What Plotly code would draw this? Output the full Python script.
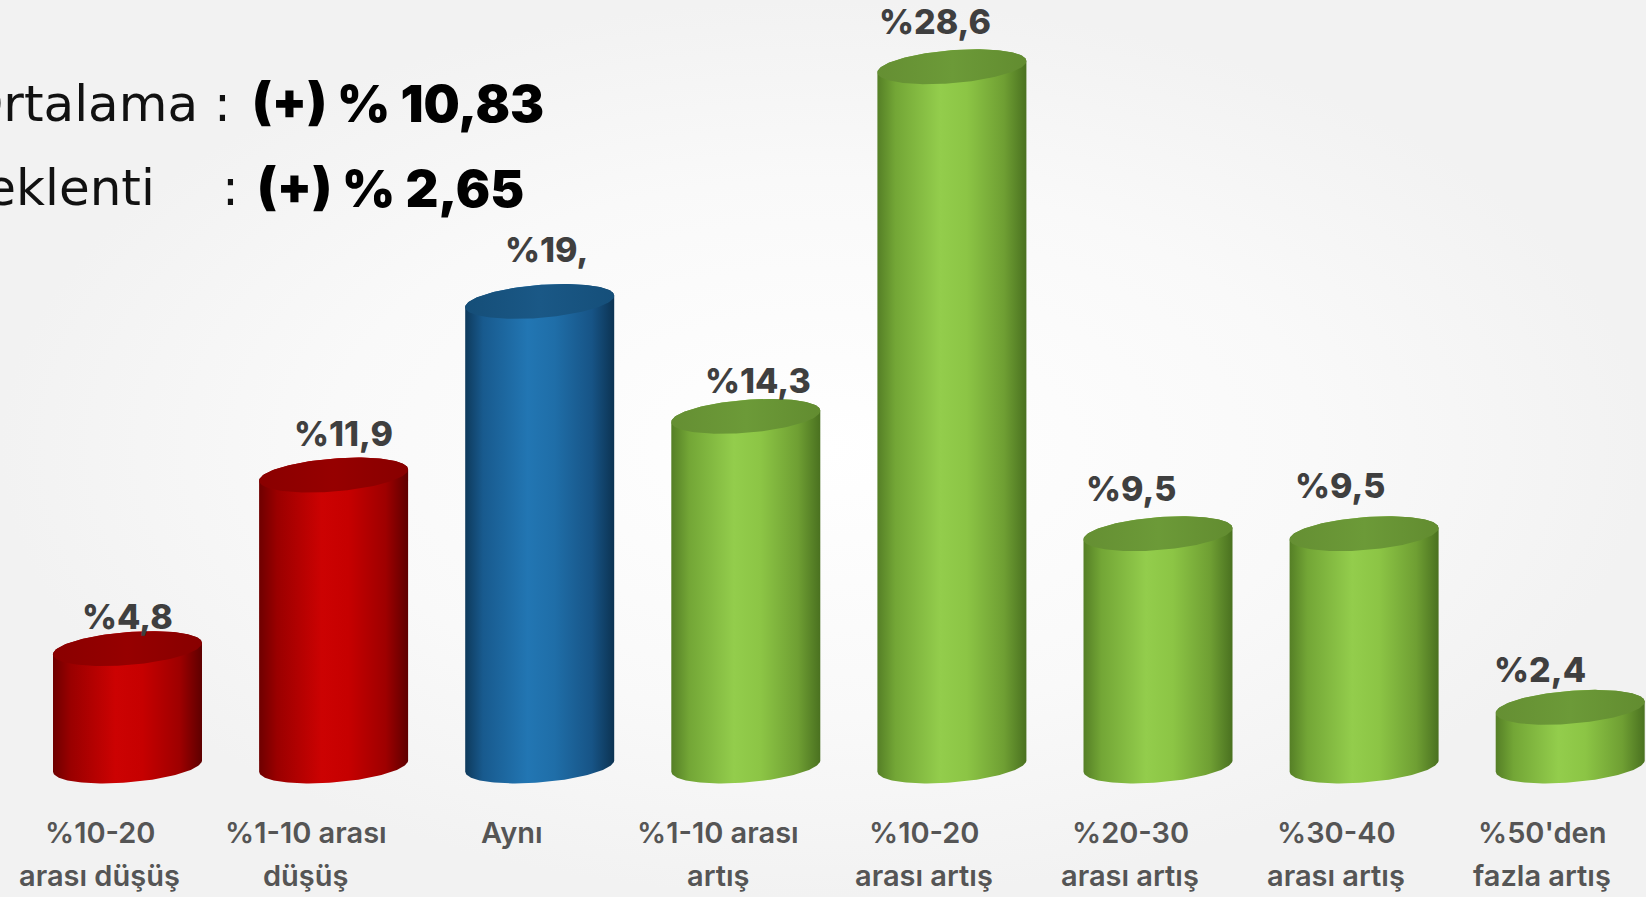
import numpy as np
import plotly.graph_objects as go

# ---------------- data ----------------
categories_line1 = ["%10-20", "%1-10 arası", "Aynı", "%1-10 arası", "%10-20", "%20-30", "%30-40", "%50'den"]
categories_line2 = ["arası düşüş", "düşüş", "", "artış", "arası artış", "arası artış", "arası artış", "fazla artış"]
values = [4.8, 11.9, 19.0, 14.3, 28.6, 9.5, 9.5, 2.4]
value_labels = ["%4,8", "%11,9", "%19,", "%14,3", "%28,6", "%9,5", "%9,5", "%2,4"]
groups = ["down", "down", "same", "up", "up", "up", "up", "up"]
header_names = ["Ortalama", "Beklenti"]
header_values = ["(+) % 10,83", "(+) % 2,65"]

# ---------------- style ----------------
W, H = 1646, 897
PX_PER_X = 206.1
PX_PER_Y = 24.45
X0_PX = 127.5      # pixel of first bar centre
BASE_PX = 766      # pixel of value 0
x_range = [-X0_PX / PX_PER_X, (W - X0_PX) / PX_PER_X]
y_range = [-(H - BASE_PX) / PX_PER_Y, BASE_PX / PX_PER_Y]

half_w = 74.5 / PX_PER_X
ell_b = 16.5 / PX_PER_Y
ell_s = 5.7 / PX_PER_Y

palette = {
    "down": dict(body=[[0, "#6e0000"], [0.12, "#9a0000"], [0.42, "#cc0202"], [0.6, "#c60000"],
                       [0.85, "#9e0000"], [1, "#5e0000"]],
                 top=[[0, "#8a0000"], [0.5, "#960000"], [1, "#880000"]]),
    "same": dict(body=[[0, "#0e3a5c"], [0.12, "#185a8e"], [0.42, "#2276b3"], [0.6, "#1f6ea8"],
                       [0.85, "#175486"], [1, "#0c3352"]],
                 top=[[0, "#154e78"], [0.5, "#1a5886"], [1, "#154f7a"]]),
    "up": dict(body=[[0, "#557f26"], [0.12, "#73a636"], [0.42, "#93cd4c"], [0.6, "#8cc545"],
                     [0.85, "#6f9f33"], [1, "#4a7120"]],
               top=[[0, "#658f33"], [0.5, "#6c9a38"], [1, "#628c30"]]),
}

fig = go.Figure()

# background radial glow
bx = [x_range[0], x_range[1], x_range[1], x_range[0], x_range[0]]
by = [y_range[0], y_range[0], y_range[1], y_range[1], y_range[0]]
fig.add_trace(go.Scatter(
    x=bx, y=by, mode="lines", line=dict(width=0), fill="toself",
    fillgradient=dict(type="radial", colorscale=[[0, "#ffffff"], [0.6, "#f9f9f9"], [1, "#f2f2f2"]]),
    hoverinfo="skip", showlegend=False))

theta_low = np.linspace(np.pi, 2 * np.pi, 80)
theta_up = np.linspace(0, np.pi, 80)
theta_all = np.linspace(0, 2 * np.pi, 160)

for i, (v, g) in enumerate(zip(values, groups)):
    cx = float(i)
    xs = list(cx + half_w * np.cos(theta_low)) + list(cx + half_w * np.cos(theta_up))
    ys = list(0 + ell_b * np.sin(theta_low) + ell_s * np.cos(theta_low)) + \
         list(v + ell_b * np.sin(theta_up) + ell_s * np.cos(theta_up))
    xs.append(xs[0]); ys.append(ys[0])
    fig.add_trace(go.Scatter(
        x=xs, y=ys, mode="lines", line=dict(width=0), fill="toself",
        fillgradient=dict(type="horizontal", colorscale=palette[g]["body"]),
        hoverinfo="skip", showlegend=False))
    tx = cx + half_w * np.cos(theta_all)
    ty = v + ell_b * np.sin(theta_all) + ell_s * np.cos(theta_all)
    fig.add_trace(go.Scatter(
        x=tx, y=ty, mode="lines", line=dict(width=0), fill="toself",
        fillgradient=dict(type="horizontal", colorscale=palette[g]["top"]),
        hoverinfo="skip", showlegend=False))

# value labels (hand-placed shifts in pixels)
label_dx = [0, 10, 7, 12, -17, -27, -24, -30]
label_dy = [32, 42, 52, 36, 45, 45, 48, 38]
for i, (v, t) in enumerate(zip(values, value_labels)):
    fig.add_annotation(x=i, y=v, text=t, showarrow=False, xshift=label_dx[i], yshift=label_dy[i],
                       font=dict(family="Inter", size=34, color="#3f3f3f", weight=800))

# category labels (sit slightly left of the bars in the original)
CAT_SHIFT = -28
for i, (l1, l2) in enumerate(zip(categories_line1, categories_line2)):
    fig.add_annotation(x=i, y=(BASE_PX - 832) / PX_PER_Y, text=l1, showarrow=False, xshift=CAT_SHIFT,
                       font=dict(family="Inter", size=29, color="#555555", weight=600))
    if l2:
        fig.add_annotation(x=i, y=(BASE_PX - 875) / PX_PER_Y, text=l2, showarrow=False, xshift=CAT_SHIFT,
                           font=dict(family="Inter", size=29, color="#555555", weight=600))

# header (partly cut at the left edge as in the original)
hdr_font = dict(family="DejaVu Sans", size=50, color="#111111")
hdr_bold = dict(family="Inter", size=51, color="#000000", weight=900)
common = dict(xref="paper", yref="paper", showarrow=False, yanchor="middle")
fig.add_annotation(x=233 / W, y=1 - 104 / H, xanchor="right",
                   text=header_names[0] + " :", font=hdr_font, **common)
fig.add_annotation(x=250 / W, y=1 - 104 / H, xanchor="left",
                   text=header_values[0], font=hdr_bold, **common)
fig.add_annotation(x=157 / W, y=1 - 188 / H, xanchor="right",
                   text=header_names[1], font=hdr_font, **common)
fig.add_annotation(x=241 / W, y=1 - 188 / H, xanchor="right",
                   text=":", font=hdr_font, **common)
fig.add_annotation(x=255 / W, y=1 - 188 / H, xanchor="left",
                   text=header_values[1], font=hdr_bold, **common)

fig.update_layout(
    width=W, height=H,
    margin=dict(l=0, r=0, t=0, b=0),
    paper_bgcolor="#f4f4f4", plot_bgcolor="#f4f4f4",
    xaxis=dict(range=x_range, visible=False, fixedrange=True),
    yaxis=dict(range=y_range, visible=False, fixedrange=True),
    showlegend=False,
)

fig.write_html("out.html", config={"displayModeBar": False},
               post_script="document.body.style.margin='0';document.body.style.overflow='hidden';")
